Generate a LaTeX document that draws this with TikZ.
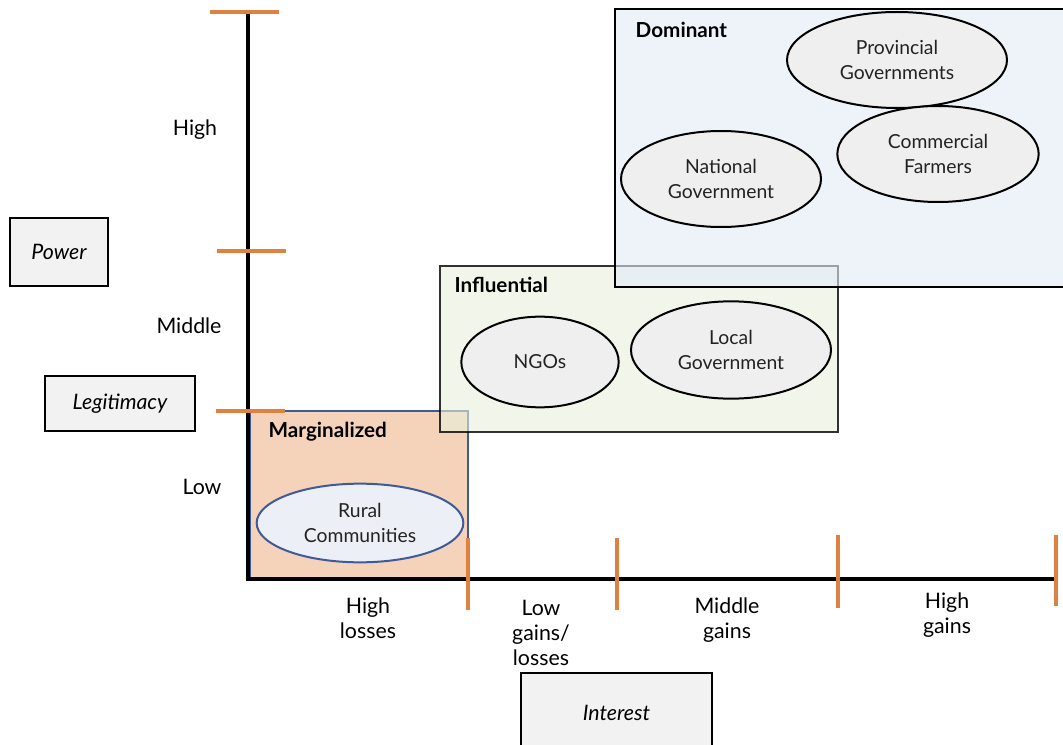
\documentclass[tikz,border=0pt]{standalone}
\usepackage{fontspec}
\setmainfont{Lato}
\usetikzlibrary{shapes.geometric}
\definecolor{tickor}{HTML}{E0823F}
\definecolor{domfill}{HTML}{E3EBF7}
\definecolor{inffill}{HTML}{E9F0DC}
\definecolor{marfill}{HTML}{F5D3BA}
\definecolor{ellfill}{HTML}{EFEFEF}
\definecolor{rurfill}{HTML}{ECEFF5}
\definecolor{rurline}{HTML}{3F5A9A}
\definecolor{txt}{HTML}{222222}
\tikzset{
  ell/.style={ellipse, draw=black, line width=1.5pt, fill=ellfill, inner sep=0pt, align=center,
    text=txt, font=\fontsize{14.5}{18.5}\selectfont},
  axislbl/.style={font=\fontsize{16}{18.5}\selectfont, align=center, text=black},
  grplbl/.style={font=\fontsize{15.5}{18}\selectfont\bfseries, anchor=west, text=black},
  keybox/.style={draw=black, line width=1.5pt, fill=black!5, font=\fontsize{16}{18}\selectfont\itshape, inner sep=0pt},
  axisline/.style={line width=3pt, black},
  tick/.style={line width=2.3pt, tickor},
}
\begin{document}
\begin{tikzpicture}[x=0.75pt, y=-0.75pt]
\useasboundingbox (0,0) rectangle (1063,745);
\clip (0,0) rectangle (1063,745);
% group boxes
\path[fill=marfill, draw=rurline, line width=1pt] (250,411) rectangle (468,578);
\path[fill=inffill, fill opacity=0.6, draw=black, draw opacity=0.8, line width=1.5pt] (440,266) rectangle (838,432);
\path[fill=domfill, fill opacity=0.6, draw=black, line width=1.5pt] (615,9) rectangle (1075,287);
\node[grplbl] (dom) at (631,30) {Dominant};
\node[grplbl] (inf) at (450,285) {Influential};
\node[grplbl] (mar) at (264,432) {Marginalized};
% ellipses
\node[ell, minimum width=165pt, minimum height=72pt] (prov) at (897,60) {Provincial\\Governments};
\node[ell, minimum width=151pt, minimum height=72pt] (comm) at (938,154) {Commercial\\Farmers};
\node[ell, minimum width=150pt, minimum height=72pt] (nat) at (721,179) {National\\Government};
\node[ell, minimum width=118pt, minimum height=68pt] (ngo) at (540,362) {NGOs};
\node[ell, minimum width=150pt, minimum height=73pt] (loc) at (731,350) {Local\\Government};
\node[ell, draw=rurline, fill=rurfill, minimum width=155pt, minimum height=59pt] (rur) at (360,523) {Rural\\Communities};
% axes
\coordinate (ytop) at (248,12);
\coordinate (orig) at (248,579);
\coordinate (xend) at (1058,579);
\draw[axisline] (ytop) -- (orig) -- (xend);
% y ticks
\coordinate (ya1) at (210,12); \coordinate (yb1) at (279,12);
\coordinate (ya2) at (217,251); \coordinate (yb2) at (286,251);
\coordinate (ya3) at (216,411); \coordinate (yb3) at (285,411);
\draw[tick] (ya1) -- (yb1);
\draw[tick] (ya2) -- (yb2);
\draw[tick] (ya3) -- (yb3);
% x ticks
\coordinate (xa1) at (468,538); \coordinate (xb1) at (468,610);
\coordinate (xa2) at (617,538); \coordinate (xb2) at (617,610);
\coordinate (xa3) at (838,535); \coordinate (xb3) at (838,608);
\coordinate (xa4) at (1056,535); \coordinate (xb4) at (1056,606);
\draw[tick] (xa1) -- (xb1);
\draw[tick] (xa2) -- (xb2);
\draw[tick] (xa3) -- (xb3);
\draw[tick] (xa4) -- (xb4);
% axis labels
\node[axislbl] (yhigh) at (195,130) {High};
\node[axislbl] (ymid) at (189,326) {Middle};
\node[axislbl] (ylow) at (202,487) {Low};
\node[axislbl] (xhl) at (368,618) {High\\losses};
\node[axislbl] (xlg) at (541,633) {Low\\gains/\\losses};
\node[axislbl] (xmg) at (727,620) {Middle\\gains};
\node[axislbl] (xhg) at (947,615) {High\\gains};
% key boxes
\node[keybox, minimum width=73.5pt, minimum height=51pt] (power) at (59,252) {Power};
\node[keybox, minimum width=112.5pt, minimum height=41pt] (legit) at (120,403.5) {Legitimacy};
\node[keybox, minimum width=143pt, minimum height=60pt] (inter) at (616.5,713) {Interest};
\end{tikzpicture}
\end{document}
